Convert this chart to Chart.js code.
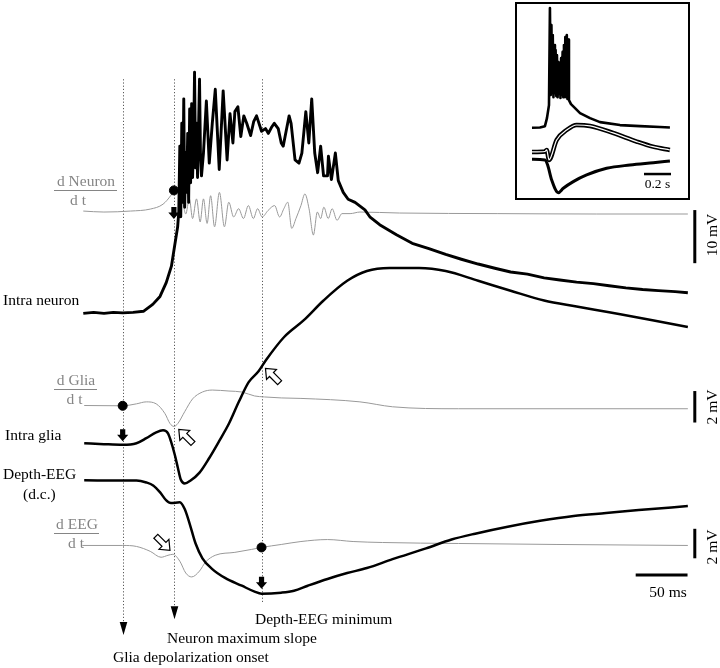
<!DOCTYPE html>
<html>
<head>
<meta charset="utf-8">
<title>Intra neuron, intra glia, depth-EEG</title>
<script src="https://cdn.jsdelivr.net/npm/chart.js"></script>
<style>
    html, body { margin: 0; padding: 0; background: #fff; }
    #wrap { position: relative; width: 720px; height: 668px; }
    #wrap canvas { display: block; }
    #inset { position: absolute; left: 515px; top: 2px; width: 171px; height: 194px; border: 2px solid #000; background: #fff; }
</style>
</head>
<body>
<div id="wrap">
    <canvas id="chartTrazos" width="720" height="668"></canvas>
    <div id="inset"><canvas id="chartInset" width="171" height="194"></canvas></div>
</div>
<script>
// ---- trazos principales (tiempo en ms desde el inicio del registro) ----
var neuronMs = [0,10,20,29,38,48,58,67,74,80,85,88,91,92.1,93.1,94,95,95.9,96.9,97.8,98.8,99.7,100.7,101.6,102.6,103.5,104.5,105.4,106.4,107.3,108.3,109.2,110.2,112.1,113,114,115.9,118.7,121.5,124.4,127.3,131.1,134.9,138.7,141.5,144.3,146.2,149.1,151.9,154.8,157.6,161.4,164.3,167.1,171.9,175.7,178.5,181.4,184.2,188,190.9,192.8,195.6,198.5,200.4,204.2,208,210.8,214.6,217.5,220.3,223.2,226,228.9,231.7,235.5,236.4,239.3,243.1,245.9,250.7,255.4,262.1,271.6,276.3,285.8,302,317.2,333.3,349.5,364.6,380.8,396.9,412.1,428.3,444.4,459.6,475.7,491.9,507.1,523.2,539.4,554.6,570.7,583];
var neuronMv = [-0.2,0,-0.2,0,-0.1,0,0.2,1.5,3,5.6,8.7,12.4,16.1,18.9,31.3,18,35.6,20.7,40.2,19.8,30,22.6,33.7,20.7,38.3,24.4,39.3,25.4,31.9,45.2,27.2,35.6,25.4,43.9,30,25.7,30,39.8,28.1,35.6,42,26.9,41.7,28.7,37.4,31.9,37.8,38.7,33.1,37,35.6,33.3,35.9,37,34.1,34.6,33.7,34.8,35.6,34.6,31.9,31.3,34.1,37,35.6,28.7,28.1,30,37.8,31.9,40.2,30,26.3,31.3,25.7,25.7,29.4,25,30,24.8,22.6,21.3,20.7,19.3,18,16.5,14.6,13,12,10.9,10,9.1,8.3,7.6,7.2,6.5,6.1,5.7,5.4,5,4.6,4.3,4.1,3.9,3.7];

var dNeuronMs = [0,19.9,45.6,64.6,76.9,84.5,87.4,91.2,94,96.9,98.8,102.3,105.4,109.2,112.7,115.9,119.4,122.8,126.6,131.3,136.1,140.3,145,149.8,154.5,159.2,164,168.1,172.5,178.2,184.5,189.3,193.4,197.2,201,205.1,209.9,213.7,217.7,221.9,225.7,228.9,232,236.2,240,244.7,249.5,257.3,266.8,304.8,399.8,494.7,583];
var dNeuronAu = [0.5,0,0.5,1.5,4,8.5,11,12.5,12,2.5,-1,6.7,-3.3,6.7,-5,6.7,-5.8,8.3,-7.5,10,-7.5,5,-2.5,1.7,-3.3,3.3,-3.3,1.7,-2.5,0.8,3.3,-2.5,1.7,5,-8.3,-3.3,3.3,9.2,1.7,-11.7,0,-3.3,2.5,-3.3,1.7,-4.2,-0.8,-0.8,0,-0.5,-0.8,-1,-1];

var gliaMs = [0.9,19.9,38,51.3,60.8,70.3,76.9,81.7,84.5,88.3,91.2,94,97.8,103.5,112.1,121.5,131,140.5,150,159.5,169,176.6,193.7,212.7,231.7,254.5,273.5,295.3,323.8,349.5,380.8,412.1,444.4,475.7,507.1,548.9,583];
var gliaMv = [0.06,0,-0.04,0.06,0.38,0.75,0.88,0.69,0.19,-0.69,-1.5,-2.25,-2.5,-2.31,-1.81,-0.88,0.19,1.31,2.69,3.94,4.63,5.38,6.81,7.88,9.13,10.38,11,11.19,11.19,11,10.38,9.75,9.13,8.75,8.38,7.88,7.44];

var dGliaMs = [0.9,38,51.3,60.8,70.3,78.8,83.6,87.4,91.2,97.8,105.4,114.9,124.4,140.5,152.9,165.2,174.7,190.9,209.9,266.8,298.2,361.8,583];
var dGliaAu = [0.15,0,1,2,1,-4,-9,-10.5,-9,-3,3.5,7,8,7.5,7,5,4.5,4,3.75,2,-0.5,-1.5,-1.5];

var eegMs = [0.9,38.9,51.3,60.8,67.4,74.1,79.8,84.5,93.1,97.8,102.6,108.3,114.9,124.4,136.7,152.9,165.2,171.9,190.9,203.2,216.5,235.5,254.5,273.5,298.2,330.5,355.1,377.9,409.3,440.6,472.9,504.2,535.6,583];
var eegMv = [0.02,0,0,-0.13,-0.33,-0.8,-1.33,-1.53,-1.47,-1.93,-2.93,-4.27,-5.27,-6,-6.6,-7.13,-7.53,-7.67,-7.6,-7.47,-7.13,-6.67,-6.27,-5.93,-5.33,-4.6,-4,-3.6,-3.13,-2.73,-2.4,-2.2,-2,-1.73];

var dEegMs = [-0.9,38,51.3,64.6,75,81.7,86.4,93.1,98.8,104.5,112.1,117.8,127.2,146.2,162.4,171.9,190.9,209.9,235.5,260.2,288.7,361.8,456.8,583];
var dEegAu = [0,0,-0.5,-3,-6,-5,-4.5,-8,-14,-16,-13,-8.5,-5,-3.5,-2,-1,0.5,2,3,2,1.5,1,0.5,0];

// instantes marcados: inicio despolarizacion glia, pendiente maxima neurona, minimo EEG
var marcasMs = [38, 87.4, 171.9];
var marcasNombre = ['Glia depolarization onset', 'Neuron maximum slope', 'Depth-EEG minimum'];
var puntoDNeuron = 11, puntoDGlia = 0, puntoDEeg = -1;

// ---- inset (tiempo en s) ----
var insetNeuronS = [0,0.059,0.096,0.111,0.126,0.133,0.139,0.144,0.149,0.154,0.159,0.164,0.17,0.175,0.18,0.185,0.19,0.196,0.201,0.206,0.211,0.216,0.221,0.227,0.232,0.237,0.242,0.247,0.253,0.258,0.263,0.268,0.274,0.289,0.319,0.356,0.43,0.504,0.652,0.8,0.948,1.022];
var insetNeuronMv = [0,0.1,0.6,3.6,8.5,45,12.3,38.6,13.4,34.8,11.5,31.1,13,29.2,11.9,27.3,11.5,24.7,12.7,24.3,11.2,26.2,12.3,28.5,11.5,31.1,12.7,34.1,11.5,34.8,10.8,33.1,10.4,8.9,7.4,5.5,3.6,2.1,1,0.6,0.3,0.1];
var insetGliaS = [0,0.096,0.109,0.126,0.183,0.257,0.331,0.43,0.6,0.776,0.896,1.022];
var insetGliaMv = [0,0.2,0.83,-3.3,5,9.1,11.2,10.8,7.9,4.3,2.2,0.83];
var insetEegS = [0,0.096,0.116,0.146,0.195,0.232,0.306,0.405,0.553,0.726,0.899,1.022];
var insetEegMv = [-0.07,-0.23,-1.35,-4.74,-7.6,-6.6,-5.1,-3.6,-2.1,-1.35,-0.83,-0.45];

var gris = '#999999', grisTexto = '#858585';
var fuente = '"Liberation Serif", "Times New Roman", serif';

function serie(tiempos, valores) {
    return tiempos.map(function (t, i) { return { x: t, y: valores[i] }; });
}

function trazo(tiempos, valores, eje, color, ancho, suave, orden) {
    return {
        data: serie(tiempos, valores),
        yAxisID: eje,
        borderColor: color,
        borderWidth: ancho,
        borderJoinStyle: 'round',
        pointRadius: 0,
        fill: false,
        cubicInterpolationMode: suave ? 'monotone' : 'default',
        tension: 0,
        order: orden
    };
}

function punto(t, v, eje) {
    return {
        data: [{ x: t, y: v }],
        yAxisID: eje,
        showLine: false,
        pointRadius: 4.5,
        pointBackgroundColor: '#000',
        pointBorderColor: '#000',
        order: 0
    };
}

function flechaLlena(ctx, x, y) {
    // flecha negra hacia abajo, punta en (x, y)
    ctx.beginPath();
    ctx.moveTo(x - 2.6, y - 12);
    ctx.lineTo(x + 2.6, y - 12);
    ctx.lineTo(x + 2.6, y - 6.5);
    ctx.lineTo(x + 5.6, y - 6.5);
    ctx.lineTo(x, y);
    ctx.lineTo(x - 5.6, y - 6.5);
    ctx.lineTo(x - 2.6, y - 6.5);
    ctx.closePath();
    ctx.fill();
}

function flechaHueca(ctx, x, y, angulo) {
    ctx.save();
    ctx.translate(x, y);
    ctx.rotate(angulo);
    ctx.beginPath();
    ctx.moveTo(0, 0);
    ctx.lineTo(-8.5, -7);
    ctx.lineTo(-8.5, -2.8);
    ctx.lineTo(-20, -2.8);
    ctx.lineTo(-20, 2.8);
    ctx.lineTo(-8.5, 2.8);
    ctx.lineTo(-8.5, 7);
    ctx.closePath();
    ctx.fillStyle = '#fff';
    ctx.fill();
    ctx.lineWidth = 1.2;
    ctx.strokeStyle = '#000';
    ctx.stroke();
    ctx.restore();
}

var anotaciones = {
    id: 'anotaciones',
    beforeDatasetsDraw: function (chart) {
        var ctx = chart.ctx, sx = chart.scales.x, sN = chart.scales.yN, sE = chart.scales.yE;
        var finEeg = [-10.47, -9.4, -8.27];
        ctx.save();
        ctx.strokeStyle = '#5a5a5a';
        ctx.lineWidth = 1;
        ctx.setLineDash([1.2, 2]);
        marcasMs.forEach(function (t, i) {
            var px = Math.round(sx.getPixelForValue(t)) + 0.5;
            var yFin = sE.getPixelForValue(finEeg[i]) - (i < 2 ? 11 : 0);
            ctx.beginPath();
            ctx.moveTo(px, sN.getPixelForValue(43.9));
            ctx.lineTo(px, yFin);
            ctx.stroke();
        });
        ctx.setLineDash([]);
        ctx.fillStyle = '#000';
        [0, 1].forEach(function (i) {
            var px = Math.round(sx.getPixelForValue(marcasMs[i])) + 0.5;
            var tip = sE.getPixelForValue(finEeg[i]);
            ctx.beginPath();
            ctx.moveTo(px - 3.8, tip - 13);
            ctx.lineTo(px + 3.8, tip - 13);
            ctx.lineTo(px, tip);
            ctx.closePath();
            ctx.fill();
        });
        ctx.restore();
    },
    afterDatasetsDraw: function (chart) {
        var ctx = chart.ctx, sx = chart.scales.x, s = chart.scales;
        ctx.save();
        ctx.fillStyle = '#000';
        flechaLlena(ctx, sx.getPixelForValue(marcasMs[1]), s.yDN.getPixelForValue(-3.5));
        flechaLlena(ctx, sx.getPixelForValue(marcasMs[0]), s.yG.getPixelForValue(0.19));
        flechaLlena(ctx, sx.getPixelForValue(marcasMs[2]), s.yE.getPixelForValue(-7.33));

        flechaHueca(ctx, sx.getPixelForValue(92.1), s.yDG.getPixelForValue(-12), -3 * Math.PI / 4);
        flechaHueca(ctx, sx.getPixelForValue(175.7), s.yG.getPixelForValue(4.81), -3 * Math.PI / 4);
        flechaHueca(ctx, sx.getPixelForValue(83.6), s.yDE.getPixelForValue(-2.5), Math.PI / 4);

        // barras de escala
        var xBarra = sx.getPixelForValue(589.7);
        ctx.strokeStyle = '#000';
        ctx.lineWidth = 3;
        [[s.yN, 9.26, 19.26], [s.yG, 1.375, 3.375], [s.yE, -5.27, -3.27]].forEach(function (b) {
            ctx.beginPath();
            ctx.moveTo(xBarra, b[0].getPixelForValue(b[1]));
            ctx.lineTo(xBarra, b[0].getPixelForValue(b[2]));
            ctx.stroke();
        });
        var yMs = s.yE.getPixelForValue(-6.4);
        ctx.beginPath();
        ctx.moveTo(sx.getPixelForValue(532.7), yMs);
        ctx.lineTo(sx.getPixelForValue(582.7), yMs);
        ctx.stroke();

        ctx.font = '15.5px ' + fuente;
        ctx.textBaseline = 'alphabetic';
        ctx.textAlign = 'center';
        ctx.fillText('50 ms', 668, 597);
        [['10 mV', 235], ['2 mV', 407], ['2 mV', 547]].forEach(function (r) {
            ctx.save();
            ctx.translate(713, r[1]);
            ctx.rotate(-Math.PI / 2);
            ctx.textBaseline = 'middle';
            ctx.fillText(r[0], 0, 0);
            ctx.restore();
        });

        ctx.textAlign = 'left';
        ctx.fillText('Intra neuron', 3, 305);
        ctx.fillText('Intra glia', 5, 440);
        ctx.fillText('Depth-EEG', 3, 479);
        ctx.fillText('(d.c.)', 23, 499);
        ctx.fillText(marcasNombre[2], 255, 624);
        ctx.fillText(marcasNombre[1], 167, 643);
        ctx.fillText(marcasNombre[0], 113, 662);

        // etiquetas de las derivadas (fraccion d X / d t)
        ctx.fillStyle = grisTexto;
        ctx.strokeStyle = grisTexto;
        ctx.lineWidth = 1;
        ctx.textAlign = 'center';
        [['d Neuron', 86, 186, 54, 117, 78],
         ['d Glia', 76, 385, 54, 97, 74.5],
         ['d EEG', 77, 529, 54, 99, 76]].forEach(function (f) {
            ctx.fillText(f[0], f[1], f[2]);
            ctx.beginPath();
            ctx.moveTo(f[3], f[2] + 4.5);
            ctx.lineTo(f[4], f[2] + 4.5);
            ctx.stroke();
            ctx.fillText('d t', f[5], f[2] + 19);
        });
        ctx.restore();
    }
};

var ejeOculto = function (min, max) { return { type: 'linear', display: false, min: min, max: max }; };

new Chart(document.getElementById('chartTrazos'), {
    type: 'line',
    data: {
        datasets: [
            punto(marcasMs[1], puntoDNeuron, 'yDN'),
            punto(marcasMs[0], puntoDGlia, 'yDG'),
            punto(marcasMs[2], puntoDEeg, 'yDE'),
            trazo(neuronMs, neuronMv, 'yN', '#000', 2.9, false, 1),
            trazo(gliaMs, gliaMv, 'yG', '#000', 2.5, true, 1),
            trazo(eegMs, eegMv, 'yE', '#000', 2.5, true, 1),
            trazo(dNeuronMs, dNeuronAu, 'yDN', gris, 1, true, 2),
            trazo(dGliaMs, dGliaAu, 'yDG', gris, 1, true, 2),
            trazo(dEegMs, dEegAu, 'yDE', gris, 1, true, 2)
        ]
    },
    options: {
        responsive: false,
        animation: false,
        events: [],
        layout: { padding: 0 },
        plugins: { legend: { display: false }, tooltip: { enabled: false } },
        scales: {
            x: ejeOculto(-75, 608.7),
            yN: ejeOculto(-65.93, 57.78),
            yDN: ejeOculto(-229, 105),
            yG: ejeOculto(-13.875, 27.875),
            yDG: ejeOculto(-130.5, 203.5),
            yE: ejeOculto(-12.333, 32.2),
            yDE: ejeOculto(-59.5, 274.5)
        }
    },
    plugins: [anotaciones]
});

var escalaInset = {
    id: 'escalaInset',
    afterDatasetsDraw: function (chart) {
        var ctx = chart.ctx, sx = chart.scales.x, y = chart.scales.eI.getPixelForValue(-3.39);
        ctx.save();
        ctx.strokeStyle = '#000';
        ctx.lineWidth = 2.5;
        ctx.beginPath();
        ctx.moveTo(sx.getPixelForValue(0.83), y);
        ctx.lineTo(sx.getPixelForValue(1.03), y);
        ctx.stroke();
        ctx.fillStyle = '#000';
        ctx.font = '13.5px ' + fuente;
        ctx.textAlign = 'center';
        ctx.fillText('0.2 s', sx.getPixelForValue(0.93), y + 14);
        ctx.restore();
    }
};

new Chart(document.getElementById('chartInset'), {
    type: 'line',
    data: {
        datasets: [
            trazo(insetNeuronS, insetNeuronMv, 'nI', '#000', 2.6, false, 1),
            trazo(insetGliaS, insetGliaMv, 'gI', '#fff', 1.2, true, 0),
            trazo(insetGliaS, insetGliaMv, 'gI', '#000', 4.5, true, 1),
            trazo(insetEegS, insetEegMv, 'eI', '#000', 3, true, 1)
        ]
    },
    options: {
        responsive: false,
        animation: false,
        events: [],
        layout: { padding: 0 },
        plugins: { legend: { display: false }, tooltip: { enabled: false } },
        scales: {
            x: ejeOculto(-0.111, 1.156),
            nI: ejeOculto(-26.4, 46.5),
            gI: ejeOculto(-19.1, 61.4),
            eI: ejeOculto(-8.8, 35)
        }
    },
    plugins: [escalaInset]
});
</script>
</body>
</html>
